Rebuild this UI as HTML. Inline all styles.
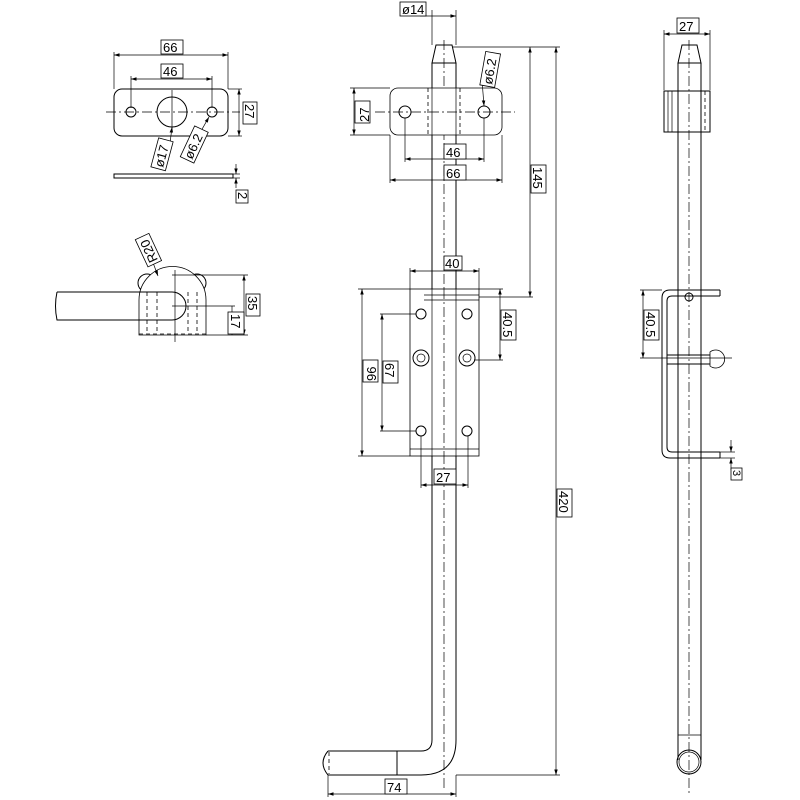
<!DOCTYPE html>
<html><head><meta charset="utf-8"><style>
html,body{margin:0;padding:0;background:#fff}
svg{display:block}
text{font-family:"Liberation Sans",sans-serif;font-size:13px;fill:#000}
.l{stroke:#000;stroke-width:1;fill:none}
.t{stroke:#000;stroke-width:0.7;fill:none}
.d{stroke:#000;stroke-width:0.8;fill:none;stroke-dasharray:4 3}
.c{stroke:#000;stroke-width:0.7;fill:none;stroke-dasharray:10 3 2 3}
.b{fill:#fff;stroke:#000;stroke-width:0.8}
</style></head><body>
<svg width="800" height="800" viewBox="0 0 800 800">
<defs><marker id="a" markerWidth="8" markerHeight="6" refX="8" refY="3" orient="auto-start-reverse"><path d="M0,0.5L8,3L0,5.5" fill="#000"/></marker></defs>

<!-- ===== Top-left plate ===== -->
<rect class="l" x="114" y="89" width="114" height="47" rx="8"/>
<circle class="l" cx="172" cy="112" r="15"/>
<circle class="l" cx="131" cy="112" r="5"/>
<circle class="l" cx="212" cy="112" r="5"/>
<line class="c" x1="106" y1="112" x2="240" y2="112"/>
<line class="t" x1="172" y1="90" x2="172" y2="130"/>
<line class="t" x1="114" y1="52" x2="114" y2="89"/><line class="t" x1="228" y1="52" x2="228" y2="89"/>
<line class="t" x1="114" y1="55" x2="228" y2="55" marker-start="url(#a)" marker-end="url(#a)"/>
<rect class="b" x="161" y="40" width="22" height="14"/><text x="163" y="52">66</text>
<line class="t" x1="131" y1="76" x2="131" y2="108"/><line class="t" x1="212" y1="76" x2="212" y2="108"/>
<line class="t" x1="131" y1="79" x2="212" y2="79" marker-start="url(#a)" marker-end="url(#a)"/>
<rect class="b" x="161" y="64" width="22" height="14"/><text x="163" y="76">46</text>
<line class="t" x1="228" y1="89" x2="242" y2="89"/><line class="t" x1="228" y1="136" x2="242" y2="136"/>
<line class="t" x1="239" y1="89" x2="239" y2="136" marker-start="url(#a)" marker-end="url(#a)"/>
<rect class="b" x="243" y="102" width="14" height="22"/><text transform="translate(245,104) rotate(90)">27</text>
<line class="t" x1="168" y1="160" x2="172" y2="127" marker-end="url(#a)"/>
<g transform="translate(163,168) rotate(-75)"><rect class="b" x="-2" y="-12" width="30" height="15"/><text x="0" y="0">ø17</text></g>
<line class="t" x1="193" y1="145" x2="209" y2="117" marker-end="url(#a)"/>
<g transform="translate(192,160) rotate(-65)"><rect class="b" x="-2" y="-12" width="34" height="15"/><text x="0" y="0">ø6.2</text></g>
<rect class="l" x="114" y="174" width="119" height="4"/>
<line class="t" x1="233" y1="174" x2="240" y2="174"/><line class="t" x1="233" y1="178" x2="240" y2="178"/>
<line class="t" x1="236" y1="164" x2="236" y2="174" marker-end="url(#a)"/>
<line class="t" x1="236" y1="188" x2="236" y2="178" marker-end="url(#a)"/>
<rect class="b" x="236" y="190" width="12" height="13"/><text transform="translate(238,192) rotate(90)">2</text>

<!-- ===== Side view (left middle) ===== -->
<circle class="l" cx="147" cy="283" r="9"/>
<circle class="l" cx="197" cy="283" r="9"/>
<path class="b" d="M139,335 L139,300 A33,33 0 0 1 206,300 L206,335 Z"/>
<path class="l" d="M57,292 L172,292 A14,14 0 0 1 172,320 L57,320 Q54,306 57,292"/>
<line class="d" x1="147" y1="292" x2="147" y2="334"/><line class="d" x1="157" y1="292" x2="157" y2="334"/>
<line class="d" x1="188" y1="292" x2="188" y2="334"/><line class="d" x1="197" y1="292" x2="197" y2="334"/>
<line class="d" x1="139" y1="334" x2="206" y2="334"/>
<line class="t" x1="175" y1="270" x2="175" y2="342"/>
<line class="t" x1="172" y1="306" x2="235" y2="306"/>
<line class="t" x1="172" y1="275" x2="248" y2="275"/><line class="t" x1="206" y1="335" x2="248" y2="335"/>
<line class="t" x1="244" y1="275" x2="244" y2="335" marker-start="url(#a)" marker-end="url(#a)"/>
<rect class="b" x="246" y="294" width="14" height="22"/><text transform="translate(248,296) rotate(90)">35</text>
<line class="t" x1="232" y1="306" x2="232" y2="335"/>
<rect class="b" x="228" y="312" width="16" height="22"/><text transform="translate(231,314) rotate(90)">17</text>
<line class="t" x1="152" y1="260" x2="158" y2="276" marker-end="url(#a)"/>
<g transform="translate(158,260) rotate(-115)"><rect class="b" x="-2" y="-12" width="30" height="15"/><text x="0" y="0">R20</text></g>

<!-- ===== Middle view ===== -->
<line class="t" x1="432" y1="10" x2="432" y2="45"/><line class="t" x1="456" y1="10" x2="456" y2="45"/>
<line class="t" x1="420" y1="16" x2="456" y2="16" marker-end="url(#a)"/>
<rect class="b" x="400" y="2" width="26" height="14"/><text x="402" y="14">ø14</text>
<path class="l" d="M436,45 L452,45 L456,63 L432,63 Z"/>
<path class="l" d="M432,63 L432,740 L432,740 Q432,751 421,751 L328,751"/>
<path class="l" d="M456,63 L456,740 Q456,775 421,775 L328,775"/>
<path class="l" d="M328,751 Q318,763 328,775"/>
<line class="d" x1="330" y1="751" x2="397" y2="751"/><line class="d" x1="330" y1="775" x2="397" y2="775"/>
<line class="d" x1="329" y1="752" x2="329" y2="774"/>
<line class="l" x1="397" y1="751" x2="397" y2="775"/>
<line class="c" x1="444" y1="40" x2="444" y2="790"/>
<!-- plate -->
<rect class="b" x="390" y="88" width="112" height="47" rx="8"/>
<line class="d" x1="428" y1="88" x2="428" y2="135"/><line class="d" x1="460" y1="88" x2="460" y2="135"/>
<line class="t" x1="432" y1="88" x2="432" y2="135"/><line class="t" x1="456" y1="88" x2="456" y2="135"/>
<circle class="l" cx="405" cy="112" r="6"/><circle class="l" cx="484" cy="112" r="6"/>
<line class="c" x1="375" y1="112" x2="515" y2="112"/>
<line class="t" x1="350" y1="88" x2="390" y2="88"/><line class="t" x1="350" y1="135" x2="390" y2="135"/>
<line class="t" x1="354" y1="88" x2="354" y2="135" marker-start="url(#a)" marker-end="url(#a)"/>
<rect class="b" x="355" y="101" width="15" height="22"/><text transform="translate(369,122) rotate(-90)">27</text>
<line class="t" x1="405" y1="118" x2="405" y2="162"/><line class="t" x1="484" y1="118" x2="484" y2="162"/>
<line class="t" x1="405" y1="159" x2="484" y2="159" marker-start="url(#a)" marker-end="url(#a)"/>
<rect class="b" x="444" y="144" width="22" height="15"/><text x="446" y="157">46</text>
<line class="t" x1="390" y1="135" x2="390" y2="183"/><line class="t" x1="502" y1="135" x2="502" y2="183"/>
<line class="t" x1="390" y1="180" x2="502" y2="180" marker-start="url(#a)" marker-end="url(#a)"/>
<rect class="b" x="444" y="165" width="22" height="15"/><text x="446" y="178">66</text>
<line class="t" x1="482" y1="80" x2="484" y2="106" marker-end="url(#a)"/>
<g transform="translate(492,85) rotate(-80)"><rect class="b" x="-2" y="-12" width="34" height="15"/><text x="0" y="0">ø6.2</text></g>
<!-- 145 / 420 -->
<line class="t" x1="452" y1="47" x2="560" y2="47"/>
<line class="t" x1="530" y1="47" x2="530" y2="297" marker-start="url(#a)" marker-end="url(#a)"/>
<line class="t" x1="479" y1="297" x2="533" y2="297"/>
<rect class="b" x="531" y="165" width="15" height="28"/><text transform="translate(533,167) rotate(90)">145</text>
<line class="t" x1="556" y1="47" x2="556" y2="775" marker-start="url(#a)" marker-end="url(#a)"/>
<line class="t" x1="456" y1="775" x2="560" y2="775"/>
<rect class="b" x="557" y="489" width="15" height="28"/><text transform="translate(559,491) rotate(90)">420</text>
<!-- bracket -->
<rect class="b" x="410" y="289" width="69" height="167"/>
<line class="t" x1="432" y1="289" x2="432" y2="456"/><line class="t" x1="456" y1="289" x2="456" y2="456"/>
<line class="t" x1="424" y1="295" x2="479" y2="295"/><line class="t" x1="424" y1="300" x2="479" y2="300"/>
<line class="t" x1="410" y1="449" x2="479" y2="449"/>
<circle class="l" cx="421" cy="314" r="5"/><circle class="l" cx="467" cy="314" r="5"/>
<circle class="l" cx="421" cy="431" r="5"/><circle class="l" cx="467" cy="431" r="5"/>
<circle class="l" cx="421" cy="358" r="8"/><circle class="t" cx="421" cy="358" r="4"/>
<circle class="l" cx="467" cy="358" r="8"/><circle class="t" cx="467" cy="358" r="4"/>
<line class="c" x1="444" y1="289" x2="444" y2="456"/>
<line class="t" x1="410" y1="268" x2="410" y2="289"/><line class="t" x1="479" y1="268" x2="479" y2="289"/>
<line class="t" x1="410" y1="271" x2="479" y2="271" marker-start="url(#a)" marker-end="url(#a)"/>
<rect class="b" x="444" y="256" width="18" height="14"/><text x="445" y="268">40</text>
<line class="t" x1="479" y1="289" x2="503" y2="289"/><line class="t" x1="474" y1="360" x2="503" y2="360"/>
<line class="t" x1="500" y1="289" x2="500" y2="360" marker-start="url(#a)" marker-end="url(#a)"/>
<rect class="b" x="501" y="310" width="15" height="30"/><text transform="translate(503,312) rotate(90)">40.5</text>
<line class="t" x1="358" y1="289" x2="410" y2="289"/><line class="t" x1="358" y1="456" x2="410" y2="456"/>
<line class="t" x1="362" y1="289" x2="362" y2="456" marker-start="url(#a)" marker-end="url(#a)"/>
<rect class="b" x="363" y="360" width="15" height="22"/><text transform="translate(376,381) rotate(-90)">96</text>
<line class="t" x1="380" y1="314" x2="416" y2="314"/><line class="t" x1="380" y1="431" x2="416" y2="431"/>
<line class="t" x1="382" y1="314" x2="382" y2="431" marker-start="url(#a)" marker-end="url(#a)"/>
<rect class="b" x="383" y="361" width="15" height="22"/><text transform="translate(385,363) rotate(90)">67</text>
<line class="t" x1="421" y1="436" x2="421" y2="488"/><line class="t" x1="468" y1="436" x2="468" y2="488"/>
<line class="t" x1="421" y1="485" x2="468" y2="485" marker-start="url(#a)" marker-end="url(#a)"/>
<rect class="b" x="434" y="469" width="22" height="15"/><text x="436" y="482">27</text>
<line class="t" x1="328" y1="775" x2="328" y2="797"/><line class="t" x1="456" y1="775" x2="456" y2="797"/>
<line class="t" x1="328" y1="794" x2="456" y2="794" marker-start="url(#a)" marker-end="url(#a)"/>
<rect class="b" x="385" y="779" width="22" height="15"/><text x="387" y="792">74</text>

<!-- ===== Right view ===== -->
<line class="t" x1="664" y1="30" x2="664" y2="90"/><line class="t" x1="710" y1="30" x2="710" y2="90"/>
<line class="t" x1="664" y1="34" x2="710" y2="34" marker-start="url(#a)" marker-end="url(#a)"/>
<rect class="b" x="677" y="18" width="22" height="15"/><text x="679" y="31">27</text>
<path class="l" d="M682,45 L697,45 L701,63 L678,63 Z"/>
<rect class="l" x="664" y="91" width="46" height="41"/>
<line class="t" x1="668" y1="91" x2="668" y2="132"/><line class="t" x1="672" y1="91" x2="672" y2="132"/>
<line class="d" x1="705" y1="91" x2="705" y2="132"/>
<line class="l" x1="678" y1="63" x2="678" y2="760"/><line class="l" x1="701" y1="63" x2="701" y2="760"/>
<line class="t" x1="678" y1="735" x2="701" y2="735"/>
<circle class="l" cx="689" cy="762" r="12"/><circle class="t" cx="689" cy="762" r="10"/>
<line class="c" x1="689" y1="40" x2="689" y2="796"/>
<path class="l" d="M720,290 L670,290 Q662,290 662,298 L662,450 Q662,458 670,458 L720,458"/>
<path class="l" d="M720,296 L672,296 Q667,296 667,301 L667,447 Q667,452 672,452 L720,452"/>
<line class="l" x1="720" y1="290" x2="720" y2="296"/><line class="l" x1="720" y1="452" x2="720" y2="458"/>
<circle class="l" cx="689" cy="297" r="4"/>
<line class="l" x1="667" y1="355" x2="710" y2="355"/><line class="l" x1="667" y1="364" x2="710" y2="364"/>
<path class="b" d="M710,352 A9,9 0 1 1 710,366 Z"/>
<line class="t" x1="640" y1="290" x2="662" y2="290"/><line class="t" x1="640" y1="358" x2="732" y2="358"/>
<line class="t" x1="643" y1="290" x2="643" y2="358" marker-start="url(#a)" marker-end="url(#a)"/>
<rect class="b" x="644" y="310" width="15" height="30"/><text transform="translate(646,312) rotate(90)">40.5</text>
<line class="t" x1="731" y1="440" x2="731" y2="452" marker-end="url(#a)"/>
<line class="t" x1="731" y1="470" x2="731" y2="458" marker-end="url(#a)"/>
<line class="t" x1="720" y1="452" x2="735" y2="452"/><line class="t" x1="720" y1="458" x2="735" y2="458"/>
<rect class="b" x="731" y="468" width="11" height="12"/><text transform="translate(733,470) rotate(90)" style="font-size:11px">3</text>
</svg>
</body></html>
